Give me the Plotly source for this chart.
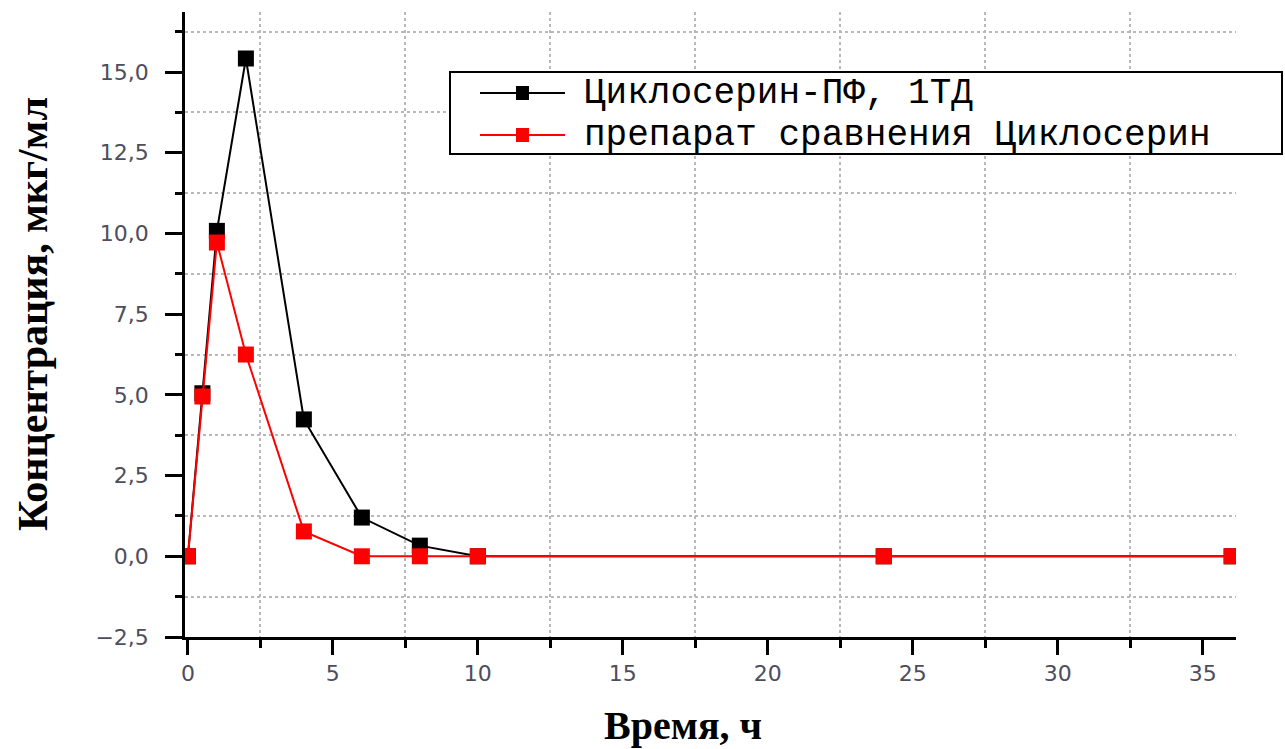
import plotly.graph_objects as go

# Data
time_black = [0, 0.5, 1, 2, 4, 6, 8, 10, 24, 36]
conc_black = [0, 5.05, 10.08, 15.42, 4.24, 1.2, 0.33, 0, 0, 0]
time_red = [0, 0.5, 1, 2, 4, 6, 8, 10, 24, 36]
conc_red = [0, 4.95, 9.72, 6.25, 0.77, 0, 0, 0, 0, 0]

series_names = ["Циклосерин-ПФ, 1ТД", "препарат сравнения Циклосерин"]
series_colors = ["black", "#ff0000"]
x_title = "Время, ч"
y_title = "Концентрация, мкг/мл"

L, R, T, B = 185, 49, 12, 112
W, H = 1285, 749
pw = W - L - R
ph = H - T - B


def px(xp):
    return (xp - L) / pw


def py(yp):
    return (H - B - yp) / ph


fig = go.Figure()
for xs, ys, nm, col in [(time_black, conc_black, series_names[0], series_colors[0]),
                        (time_red, conc_red, series_names[1], series_colors[1])]:
    fig.add_trace(go.Scatter(
        x=xs, y=ys, name=nm, mode="lines+markers",
        line=dict(color=col, width=2),
        marker=dict(symbol="square", size=16, color=col),
        showlegend=False,
    ))

tickfont = dict(family="DejaVu Sans", size=22, color="#4d4d5c")

fig.update_xaxes(
    range=[-0.1, 36.15], tick0=0, dtick=5,
    showline=True, linecolor="black", linewidth=2.5,
    ticks="outside", ticklen=15, tickwidth=2.5, tickcolor="black",
    showgrid=False, zeroline=False, tickfont=tickfont,
    minor=dict(dtick=2.5, tick0=0, ticks="outside", ticklen=8, tickwidth=2.5,
               tickcolor="black", showgrid=True, griddash="dot",
               gridcolor="#b8b8b8", gridwidth=1.5),
)
fig.update_yaxes(
    range=[-2.5, 16.86], tick0=-2.5, dtick=2.5, tickformat=".1f",
    showline=True, linecolor="black", linewidth=2.5,
    ticks="outside", ticklen=17, tickwidth=2.5, tickcolor="black",
    ticklabelstandoff=12,
    showgrid=False, zeroline=False, tickfont=tickfont,
    minor=dict(dtick=1.25, tick0=-2.5, ticks="outside", ticklen=7, tickwidth=2.5,
               tickcolor="black", showgrid=True, griddash="dot",
               gridcolor="#b8b8b8", gridwidth=1.5),
)

# Legend (manual, to match the large boxed legend of the reference)
shapes = [dict(type="rect", xref="paper", yref="paper",
               x0=px(450), x1=px(1282), y0=py(154), y1=py(72),
               line=dict(color="black", width=2), fillcolor="white", layer="above")]
annotations = []
rows = [93, 135]
for i, (nm, col) in enumerate(zip(series_names, series_colors)):
    yc = rows[i]
    shapes.append(dict(type="line", xref="paper", yref="paper",
                       x0=px(480), x1=px(565), y0=py(yc), y1=py(yc),
                       line=dict(color=col, width=2), layer="above"))
    shapes.append(dict(type="rect", xref="paper", yref="paper",
                       x0=px(516), x1=px(529), y0=py(yc + 7), y1=py(yc - 7),
                       line=dict(color=col, width=0), fillcolor=col, layer="above"))
    annotations.append(dict(text=nm, xref="paper", yref="paper",
                            x=px(582), y=py(yc), xanchor="left", yanchor="middle",
                            showarrow=False,
                            font=dict(family="Liberation Mono", size=36, color="black")))

annotations += [
    dict(text=x_title, xref="paper", yref="paper",
         x=px(683), y=py(725), showarrow=False,
         xanchor="center", yanchor="middle",
         font=dict(family="Liberation Serif", size=40, color="black", weight="bold")),
    dict(text=y_title, xref="paper", yref="paper", textangle=-90,
         x=px(33), y=py(314), showarrow=False,
         xanchor="center", yanchor="middle",
         font=dict(family="Liberation Serif", size=42, color="black", weight="bold")),
]

fig.update_layout(
    width=W, height=H,
    margin=dict(l=L, r=R, t=T, b=B),
    plot_bgcolor="white", paper_bgcolor="white",
    separators=", ",
    showlegend=False,
    shapes=shapes,
    annotations=annotations,
)

fig.write_html("out.html", config={"displayModeBar": False},
               post_script="document.body.style.margin='0';")
